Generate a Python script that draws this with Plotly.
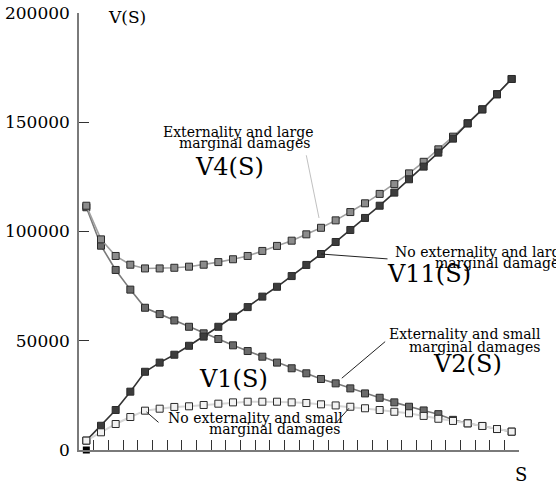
import plotly.graph_objects as go

# Stock level index and value functions for the four cases
S = list(range(30))

V11 = [4300, 11100, 18300, 26700, 35800, 40000, 43600, 47700, 51900, 56400,
       61000, 65400, 70200, 74700, 79600, 84700, 89700, 95200, 100700, 106200,
       111800, 117800, 123900, 129700, 136100, 142500, 149500, 155900, 162800, 169800]
V4 = [111800, 96400, 88800, 84800, 83100, 83100, 83400, 83900, 84800, 86000,
      87300, 88800, 91100, 93400, 95800, 98700, 101700, 105100, 108900, 112900,
      117200, 121700, 126600, 131900, 137600, 143400, 149500, 155900, 162800, 169800]
V2 = [111100, 93500, 82400, 73400, 65100, 62200, 59300, 56400, 53400, 50800,
      47900, 45300, 42700, 40000, 37400, 35100, 32500, 30500, 28200, 25900,
      23900, 21800, 19800, 18100, 16400, 13800, 12200, 11000, 9600, 8400]
V1 = [4300, 8100, 11900, 15100, 18000, 18900, 19700, 20000, 20600, 21200,
      21800, 22100, 22100, 22100, 21800, 21500, 20900, 20400, 19800, 19100,
      18300, 17500, 16800, 15600, 14300, 13300, 12200, 11000, 9600, 8400]
ORIGIN = [0]

Y_TICKS = [0, 50000, 100000, 150000, 200000]
X_TICKS = [s + 0.5 for s in S]

SERIF = "DejaVu Serif"


def series(y, line_color, fill, width=1.6):
    return go.Scatter(
        x=S, y=y, mode="lines+markers",
        line=dict(color=line_color, width=width),
        marker=dict(symbol="square", size=7, color=fill,
                    line=dict(color="#2a2a2a", width=1)),
        cliponaxis=False, showlegend=False, hoverinfo="skip",
    )


fig = go.Figure()
fig.add_trace(series(V2, "#7a7a7a", "#6a6a6a"))
fig.add_trace(series(V4, "#a0a0a0", "#8c8c8c"))
fig.add_trace(series(V11, "#333333", "#3c3c3c"))
fig.add_trace(series(V1, "#d6d6d6", "#f2f2f2", width=2))
fig.add_trace(go.Scatter(
    x=S[:1], y=ORIGIN, mode="markers",
    marker=dict(symbol="square", size=7, color="#000000"),
    cliponaxis=False, showlegend=False, hoverinfo="skip",
))


def label(text, x, y, size=14, xanchor="center", xref="x", yref="y"):
    fig.add_annotation(text=text, x=x, y=y, xref=xref, yref=yref,
                       xanchor=xanchor, yanchor="middle", showarrow=False,
                       font=dict(family=SERIF, size=size, color="#000000"))


def pointer(x, y, ax, ay, color="#222222", width=1, standoff=0):
    fig.add_annotation(text="", x=x, y=y, xref="x", yref="y", ax=ax, ay=ay,
                       showarrow=True, arrowhead=0, arrowwidth=width,
                       arrowcolor=color, standoff=standoff)


# Case labels
label("Externality and large", 10.375, 145540)
label("marginal damages", 10.78, 140280)
label("V4(S)", 9.76, 129520, size=24)

label("No externality and large", 20.91, 90620, xanchor="left")
label("marginal damages", 23.62, 85580, xanchor="left")
label("V11(S)", 20.36, 80550, size=24, xanchor="left")

label("Externality and small", 20.5, 53090, xanchor="left")
label("marginal damages", 21.86, 47140, xanchor="left")
label("V2(S)", 25.99, 39360, size=24)

label("V1(S)", 10.0, 32720, size=24)
label("No externality and small", 5.43, 14420, xanchor="left")
label("marginal damages", 8.23, 9610, xanchor="left")

# Axis titles
label("V(S)", 1.34, 198400, size=17, xanchor="left")
label("S", 1.004, -0.057, size=18, xref="paper", yref="paper")

# Leader lines from the labels to their curves
pointer(S[16], V4[16], -15, -74, color="#b0b0b0", width=0.8, standoff=10)
pointer(S[16], V11[16], 68, 5)
pointer(S[17], V2[17], 51, -43, standoff=8)
pointer(S[4], V1[4], 15, 13, standoff=2)
pointer(S[18], V1[18], -16, 18, standoff=2)

fig.update_layout(
    width=556, height=491,
    margin=dict(l=79, r=37, t=13, b=41, autoexpand=False),
    paper_bgcolor="white", plot_bgcolor="white",
    font=dict(family=SERIF, color="#000000"),
    xaxis=dict(
        range=[-0.5, 29.5], showgrid=False, zeroline=False, automargin=False,
        showline=True, linecolor="#7a7a7a", linewidth=1.5,
        tickmode="array", tickvals=X_TICKS, ticks="inside", ticklen=10,
        tickcolor="#333333", tickwidth=1, showticklabels=False,
    ),
    yaxis=dict(
        range=[0, 200000], showgrid=False, zeroline=False, automargin=False,
        showline=True, linecolor="#7a7a7a", linewidth=1.5,
        tickmode="array", tickvals=Y_TICKS, ticktext=[str(v) for v in Y_TICKS],
        ticks="inside", ticklen=10, tickcolor="#333333", tickwidth=1,
        ticklabelstandoff=4,
        tickfont=dict(family=SERIF, size=17, color="#000000"),
    ),
)

fig.write_html("out.html")
